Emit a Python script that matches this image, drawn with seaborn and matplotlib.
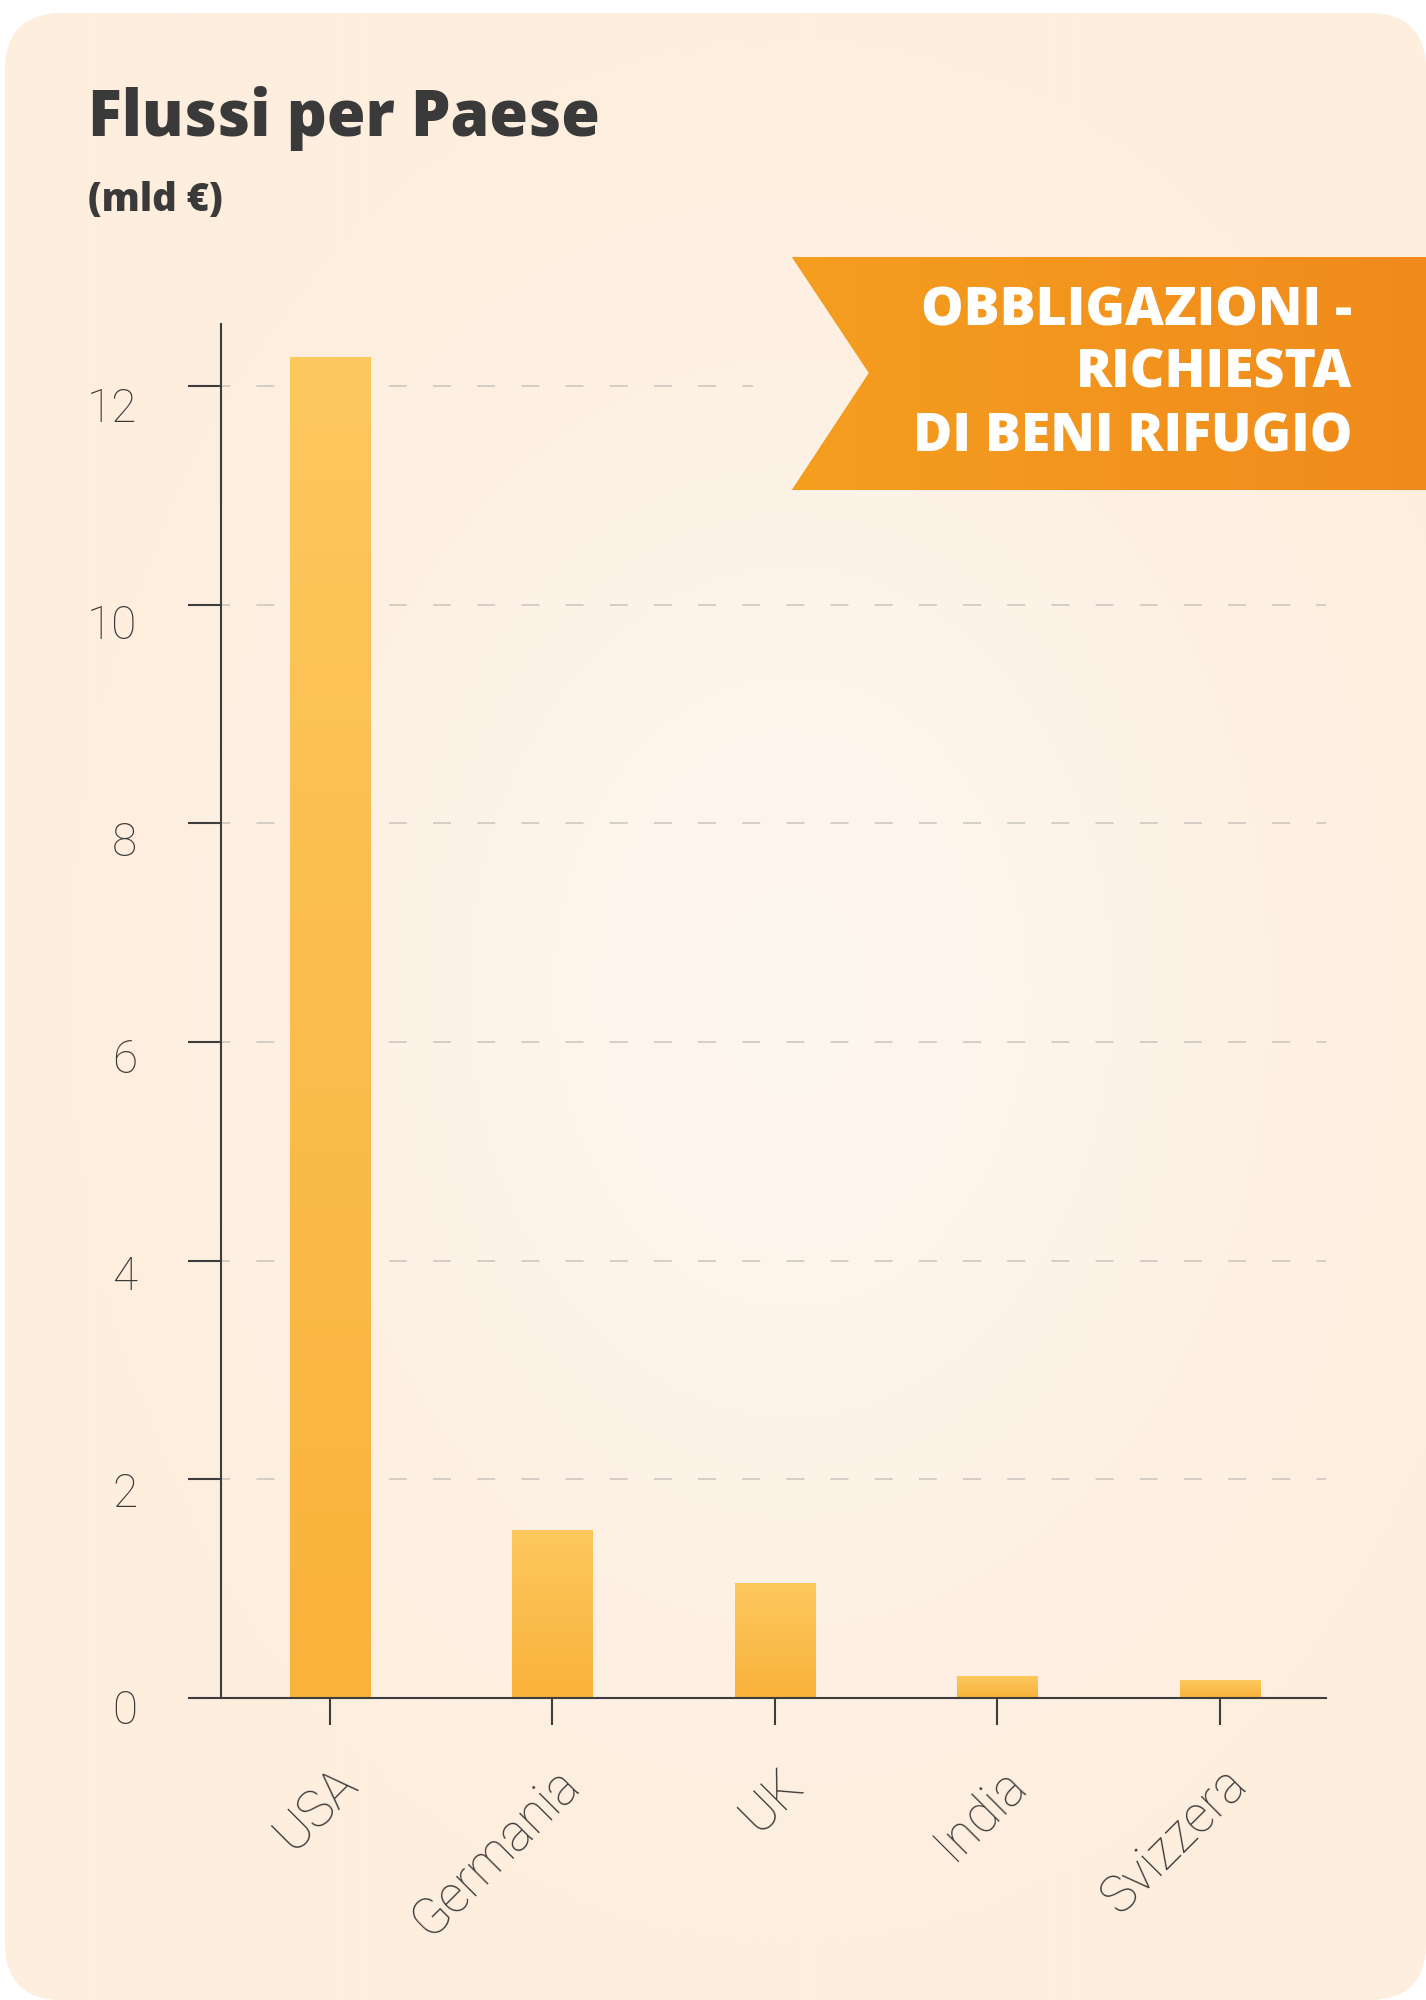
import numpy as np
import pandas as pd
import matplotlib
matplotlib.use("Agg")
import matplotlib.pyplot as plt
import seaborn as sns
from matplotlib.patches import FancyBboxPatch, Polygon, Rectangle
from matplotlib.transforms import ScaledTranslation

# ---------------- data ----------------
countries = ["USA", "Germania", "UK", "India", "Svizzera"]
flows = [12.27, 1.53, 1.05, 0.20, 0.16]
y_ticks = [0, 2, 4, 6, 8, 10, 12]
title_text = "Flussi per Paese"
subtitle_text = "(mld €)"
banner_lines = ["OBBLIGAZIONI -", "RICHIESTA", "DI BENI RIFUGIO"]

# ---------------- style ----------------
sns.set_theme(style="white")
plt.rcParams['font.family'] = ['Roboto', 'Lato', 'DejaVu Sans']
plt.rcParams['lines.scale_dashes'] = False
LABEL_FONT = ['Roboto', 'Lato', 'DejaVu Sans']
HEAD_FONT = ['Open Sans', 'DejaVu Sans']

W, H = 1426, 2000
DPI = 100
fig = plt.figure(figsize=(W / DPI, H / DPI), dpi=DPI, facecolor='white')

# background layer in pixel coordinates
bg = fig.add_axes([0, 0, 1, 1], zorder=0)
bg.axis('off')

C_CENTER = np.array([254, 247, 240]) / 255
C_EDGE = np.array([253, 238, 222]) / 255
CX, CY, RX, RY = 790, 990, 720, 950


def bg_color(x, y):
    r = np.sqrt(((x - CX) / RX) ** 2 + ((y - CY) / RY) ** 2)
    t = np.clip(r, 0, 1)[..., None]
    return C_CENTER * (1 - t) + C_EDGE * t


card = FancyBboxPatch((5, 13), W - 5, H - 13,
                      boxstyle="round,pad=0,rounding_size=58",
                      fc=C_EDGE, ec='none', zorder=1)
bg.add_patch(card)
yy, xx = np.mgrid[0:H:4, 0:W:4]
img = bg_color(xx.astype(float), yy.astype(float))
im = bg.imshow(img, extent=(0, W, H, 0), origin='upper', aspect='auto',
               interpolation='bilinear', zorder=2)
im.set_clip_path(card)
bg.set_xlim(0, W)
bg.set_ylim(H, 0)

# title / subtitle
bg.text(88, 136, title_text, ha='left', va='baseline', color='#3a3a3a',
        fontsize=45, fontweight='heavy', family=HEAD_FONT, zorder=5)
bg.text(88, 211, subtitle_text, ha='left', va='baseline', color='#3a3a3a',
        fontsize=27.5, fontweight='heavy', family=HEAD_FONT, zorder=5)

# ---------------- chart ----------------
ax_left, ax_right = 220.7, 1325.5
ax_top, ax_bottom = 324.0, 1697.7
ax = fig.add_axes([ax_left / W, (H - ax_bottom) / H,
                   (ax_right - ax_left) / W, (ax_bottom - ax_top) / H], zorder=3)
ax.set_facecolor('none')

df = pd.DataFrame({"Paese": countries, "Flussi": flows})
sns.barplot(data=df, x="Paese", y="Flussi", ax=ax, color='#FBBB45',
            width=0.36, saturation=1, zorder=2)

top_c = np.array([253, 200, 94]) / 255
bot_c = np.array([249, 178, 58]) / 255
g = np.linspace(0, 1, 128)[:, None, None]
bar_img = top_c * (1 - g) + bot_c * g
for p in ax.patches:
    x0, w, h = p.get_x(), p.get_width(), p.get_height()
    p.set_edgecolor('none')
    gi = ax.imshow(bar_img, extent=(x0, x0 + w, 0, h), origin='upper',
                   aspect='auto', interpolation='bilinear', zorder=2.1)
    gi.set_clip_path(p)

ax.set_xlim(-0.49, 4.475)
ax.set_ylim(0, 12.57)
ax.set_xlabel("")
ax.set_ylabel("")

for s in ['top', 'right']:
    ax.spines[s].set_visible(False)
for s in ['left', 'bottom']:
    ax.spines[s].set_color('#3d3d3d')
    ax.spines[s].set_linewidth(1.5)
    ax.spines[s].set_zorder(4)

ax.set_yticks(y_ticks)
ax.set_yticklabels([str(v) for v in y_ticks])
ax.tick_params(axis='y', direction='out', length=23.5, width=1.5, color='#3d3d3d',
               pad=36.5, labelsize=33, labelcolor='#3a3a3a', left=True)
ax.tick_params(axis='x', direction='out', length=19.4, width=1.5, color='#3d3d3d',
               pad=44.5, labelsize=36.5, labelcolor='#3a3a3a', bottom=True)

for v, lab in zip(y_ticks, ax.get_yticklabels()):
    lab.set_family(LABEL_FONT)
    lab.set_fontweight('light')
    lab.set_color('#3a3a3a')
    dy_px = 9 + 0.8 * v
    lab.set_transform(lab.get_transform() +
                      ScaledTranslation(0, -dy_px / DPI, fig.dpi_scale_trans))
for lab in ax.get_xticklabels():
    lab.set_family(LABEL_FONT)
    lab.set_fontweight('light')
    lab.set_color('#3a3a3a')
    lab.set_rotation(45)
    lab.set_ha('right')
    lab.set_va('baseline')
    lab.set_rotation_mode('anchor')
    lab.set_transform(lab.get_transform() + ScaledTranslation(0.30, 0, fig.dpi_scale_trans))

ax.yaxis.grid(True, color='#d3cec7', linewidth=1.4, linestyle=(6.3, (12.9, 18.9)))
ax.xaxis.grid(False)
ax.set_axisbelow(True)

# top gridline stops short of the banner
cover_c = bg_color(np.array(820.0), np.array(387.0))
ax.add_patch(Rectangle((753, 378), 140, 18, transform=bg.transData,
                       fc=cover_c, ec='none', zorder=1.5, clip_on=False))

# ---------------- banner (on top) ----------------
fg = fig.add_axes([0, 0, 1, 1], zorder=6)
fg.axis('off')
fg.patch.set_alpha(0)
banner = Polygon([(792, 257), (W, 257), (W, 490), (792, 490), (869, 373)],
                 closed=True, fc='#F39520', ec='none', zorder=3)
fg.add_patch(banner)
grad = np.linspace(0, 1, 256)[None, :, None]
cl = np.array([245, 158, 32]) / 255
cr = np.array([240, 139, 27]) / 255
bimg = cl * (1 - grad) + cr * grad
bim = fg.imshow(bimg, extent=(792, W, 490, 257), origin='upper', aspect='auto',
                interpolation='bilinear', zorder=4)
bim.set_clip_path(banner)
fg.set_xlim(0, W)
fg.set_ylim(H, 0)

for txt, yb in zip(banner_lines, [325, 388, 452]):
    fg.text(1352, yb, txt, ha='right', va='baseline', color='white',
            fontsize=38.5, fontweight='heavy', family=HEAD_FONT, zorder=5)

fig.savefig("out.png", dpi=DPI, facecolor='white')
